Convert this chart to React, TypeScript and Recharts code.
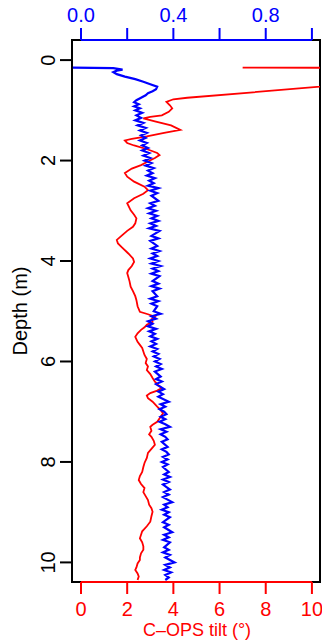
import React from "react";
import {
  ScatterChart,
  Scatter,
  XAxis,
  YAxis,
  ReferenceArea,
  ReferenceLine,
  Label,
} from "recharts";

// profile: depth (m) vs normalised signal (top axis) and C-OPS tilt (bottom axis)
const blueDepth = [
  0.15, 0.16, 0.19, 0.21, 0.24, 0.28, 0.33, 0.38, 0.43, 0.48, 0.53, 0.58, 0.62, 0.66, 0.7, 0.75, 0.8, 0.84, 0.88,
  0.92, 0.96, 1.0, 1.05, 1.1, 1.15, 1.2, 1.25, 1.3, 1.35, 1.4, 1.45, 1.5, 1.55, 1.6, 1.65, 1.7, 1.75, 1.8, 1.85,
  1.9, 1.95, 2.0, 2.05, 2.1, 2.15, 2.2, 2.25, 2.3, 2.35, 2.4, 2.45, 2.5, 2.55, 2.6, 2.65, 2.7, 2.8, 2.85, 2.9,
  2.95, 3.0, 3.05, 3.1, 3.15, 3.2, 3.25, 3.3, 3.35, 3.4, 3.5, 3.55, 3.6, 3.7, 3.75, 3.8, 3.85, 3.9, 3.95, 4.0,
  4.05, 4.1, 4.15, 4.2, 4.25, 4.3, 4.4, 4.45, 4.5, 4.55, 4.6, 4.7, 4.75, 4.8, 4.85, 4.9, 5.0, 5.05, 5.1, 5.15,
  5.2, 5.25, 5.3, 5.35, 5.4, 5.45, 5.5, 5.55, 5.6, 5.65, 5.7, 5.75, 5.8, 5.85, 5.9, 5.95, 6.0, 6.05, 6.1, 6.15,
  6.2, 6.3, 6.35, 6.4, 6.45, 6.55, 6.6, 6.65, 6.7, 6.8, 6.85, 6.9, 6.95, 7.0, 7.05, 7.1, 7.15, 7.2, 7.25, 7.3,
  7.35, 7.4, 7.45, 7.5, 7.55, 7.6, 7.7, 7.75, 7.8, 7.85, 7.9, 7.95, 8.0, 8.05, 8.1, 8.2, 8.25, 8.3, 8.35, 8.4,
  8.45, 8.55, 8.6, 8.65, 8.7, 8.8, 8.85, 8.9, 8.95, 9.0, 9.05, 9.1, 9.2, 9.25, 9.3, 9.4, 9.45, 9.5, 9.55, 9.6,
  9.7, 9.75, 9.8, 9.85, 9.9, 10.0, 10.05, 10.1, 10.15, 10.2, 10.25, 10.3, 10.35,
];
const blueSignal = [
  -0.035, 0.14, 0.18, 0.155, 0.14, 0.155, 0.19, 0.235, 0.27, 0.3, 0.33, 0.325, 0.31, 0.29, 0.28, 0.26, 0.24, 0.23,
  0.25, 0.23, 0.255, 0.235, 0.265, 0.24, 0.26, 0.235, 0.27, 0.245, 0.28, 0.255, 0.285, 0.26, 0.28, 0.255, 0.285,
  0.265, 0.29, 0.265, 0.295, 0.27, 0.3, 0.275, 0.305, 0.28, 0.315, 0.29, 0.31, 0.285, 0.32, 0.295, 0.315, 0.29,
  0.335, 0.3, 0.33, 0.305, 0.335, 0.3, 0.32, 0.29, 0.325, 0.295, 0.33, 0.305, 0.335, 0.3, 0.325, 0.295, 0.34,
  0.305, 0.335, 0.3, 0.33, 0.305, 0.34, 0.31, 0.33, 0.3, 0.335, 0.305, 0.345, 0.31, 0.335, 0.305, 0.34, 0.31,
  0.335, 0.305, 0.34, 0.31, 0.33, 0.3, 0.335, 0.305, 0.33, 0.315, 0.345, 0.305, 0.325, 0.29, 0.31, 0.29, 0.325,
  0.295, 0.32, 0.3, 0.33, 0.305, 0.325, 0.3, 0.33, 0.31, 0.335, 0.315, 0.34, 0.32, 0.345, 0.325, 0.35, 0.32,
  0.345, 0.325, 0.35, 0.325, 0.36, 0.335, 0.355, 0.335, 0.38, 0.345, 0.365, 0.34, 0.36, 0.37, 0.345, 0.365, 0.34,
  0.365, 0.385, 0.345, 0.37, 0.345, 0.365, 0.375, 0.35, 0.375, 0.35, 0.37, 0.38, 0.355, 0.375, 0.35, 0.375, 0.355,
  0.38, 0.36, 0.385, 0.355, 0.38, 0.355, 0.385, 0.36, 0.38, 0.355, 0.395, 0.36, 0.375, 0.35, 0.38, 0.36,
  0.385, 0.355, 0.38, 0.36, 0.395, 0.36, 0.38, 0.355, 0.385, 0.36, 0.38, 0.355, 0.385, 0.365, 0.405, 0.365, 0.385,
  0.36, 0.39, 0.365, 0.38, 0.365,
];

const redDepth = [
  0.15, 0.16, 0.75, 0.78, 0.83, 0.9, 0.96, 1.03, 1.1, 1.13, 1.16, 1.22, 1.3, 1.39, 1.45, 1.52, 1.57, 1.6, 1.65,
  1.7, 1.78, 1.85, 1.89, 1.95, 2.02, 2.09, 2.16, 2.25, 2.32, 2.42, 2.52, 2.59, 2.66, 2.75, 2.85, 2.99, 3.08,
  3.15, 3.25, 3.32, 3.4, 3.48, 3.58, 3.65, 3.72, 3.85, 3.95, 4.02, 4.1, 4.18, 4.24, 4.32, 4.4, 4.51, 4.6, 4.7,
  4.78, 4.9, 5.01, 5.06, 5.11, 5.16, 5.21, 5.27, 5.32, 5.37, 5.44, 5.51, 5.56, 5.61, 5.67, 5.73, 5.8, 5.87,
  5.95, 6.03, 6.1, 6.17, 6.25, 6.33, 6.4, 6.47, 6.53, 6.58, 6.63, 6.68, 6.73, 6.8, 6.9, 6.97, 7.03, 7.1, 7.2,
  7.26, 7.3, 7.38, 7.45, 7.5, 7.58, 7.66, 7.74, 7.82, 7.92, 8.02, 8.1, 8.2, 8.28, 8.36, 8.44, 8.52, 8.6, 8.68,
  8.76, 8.85, 8.92, 8.99, 9.08, 9.19, 9.28, 9.38, 9.45, 9.52, 9.6, 9.68, 9.75, 9.82, 9.9, 9.95, 10.02, 10.1,
  10.15, 10.22, 10.28, 10.35,
];
const redTilt = [
  7.0, 20, 4.6, 4.0, 3.7, 3.85, 3.95, 3.8, 3.5, 3.0, 2.7, 3.2, 3.9, 4.3, 3.6, 2.85, 2.2, 1.9, 2.0, 2.3, 2.9, 3.3,
  3.4, 3.2, 2.9, 2.6, 2.2, 1.9, 2.0, 2.3, 2.75, 2.9, 2.7, 2.3, 2.0, 2.15, 2.3, 2.4, 2.35, 2.25, 2.0, 1.8, 1.55,
  1.6, 1.75, 2.05, 2.25, 2.3, 2.2, 2.05, 2.0, 2.05, 2.1, 2.15, 2.25, 2.35, 2.4, 2.45, 2.55, 2.9, 3.2, 3.05, 3.1,
  2.85, 2.75, 2.6, 2.45, 2.35, 2.4, 2.45, 2.55, 2.65, 2.7, 2.75, 2.85, 2.8, 2.9, 2.85, 3.0, 3.1, 3.2, 3.35, 3.5,
  3.3, 3.0, 2.85, 2.9, 3.1, 3.3, 3.45, 3.55, 3.45, 3.3, 3.1, 3.0, 3.05, 2.95, 3.05, 3.15, 3.2, 3.05, 2.9, 2.85,
  2.75, 2.7, 2.65, 2.55, 2.5, 2.6, 2.75, 2.7, 2.8, 2.9, 2.95, 3.05, 3.1, 3.05, 3.0, 2.85, 2.65, 2.6, 2.55, 2.65,
  2.7, 2.7, 2.6, 2.55, 2.55, 2.45, 2.4, 2.35, 2.45, 2.5, 2.45,
];

const depthTicks = [0, 2, 4, 6, 8, 10];
const blueTicks = [0, 0.2, 0.4, 0.6, 0.8, 1.0];
const blueLabelled = [0, 0.4, 0.8];
const redTicks = [0, 2, 4, 6, 8, 10];

const blueData = blueDepth.map((d, i) => ({ depth: d, v: blueSignal[i] }));
const redData = redDepth.map((d, i) => ({ depth: d, v: redTilt[i] }));

const BLUE = "#0000FF";
const RED = "#FF0000";
const FONT = "'Liberation Sans', Arial, Helvetica, sans-serif";

const BlueTick = (props: any) => {
  const val = props.payload.value;
  if (!blueLabelled.some((b) => Math.abs(b - val) < 1e-6)) return <g />;
  return (
    <text x={props.x} y={22} textAnchor="middle" fill={BLUE} fontSize={20} fontFamily={FONT}>
      {val.toFixed(1)}
    </text>
  );
};

const RedTick = (props: any) => (
  <text x={props.x} y={616} textAnchor="middle" fill={RED} fontSize={20} fontFamily={FONT}>
    {props.payload.value}
  </text>
);

const DepthTick = (props: any) => (
  <text
    x={55}
    y={props.y}
    transform={`rotate(-90, 55, ${props.y})`}
    textAnchor="middle"
    fill="#000"
    fontSize={20}
    fontFamily={FONT}
  >
    {props.payload.value}
  </text>
);

const noDot = () => <g />;

export default function App() {
  return (
    <div style={{ position: "absolute", left: 0, top: 0, background: "#fff" }}>
      <ScatterChart width={322} height={641} margin={{ top: 0, right: 2, bottom: 0, left: 0 }}>
        <XAxis
          xAxisId="blue"
          type="number"
          dataKey="v"
          orientation="top"
          domain={[-0.039, 1.035]}
          allowDataOverflow
          ticks={blueTicks}
          height={40}
          tickSize={12}
          axisLine={false}
          tickLine={{ stroke: BLUE, strokeWidth: 2 }}
          tick={<BlueTick />}
        />
        <XAxis
          xAxisId="red"
          type="number"
          dataKey="v"
          orientation="bottom"
          domain={[-0.39, 10.35]}
          allowDataOverflow
          ticks={redTicks}
          height={59}
          tickSize={12}
          axisLine={false}
          tickLine={{ stroke: RED, strokeWidth: 2 }}
          tick={<RedTick />}
        >
          <Label
            content={() => (
              <text x={197} y={636} textAnchor="middle" fill={RED} fontSize={18} fontFamily={FONT}>
                C–OPS tilt (°)
              </text>
            )}
          />
        </XAxis>
        <YAxis
          yAxisId="d"
          type="number"
          dataKey="depth"
          reversed
          domain={[-0.4, 10.39]}
          allowDataOverflow
          ticks={depthTicks}
          width={72}
          tickSize={12}
          axisLine={false}
          tickLine={{ stroke: "#000", strokeWidth: 2 }}
          tick={<DepthTick />}
        >
          <Label
            content={() => (
              <text
                x={27}
                y={311}
                transform="rotate(-90, 27, 311)"
                textAnchor="middle"
                fill="#000"
                fontSize={20}
                fontFamily={FONT}
              >
                Depth (m)
              </text>
            )}
          />
        </YAxis>
        <ReferenceArea
          xAxisId="red"
          yAxisId="d"
          x1={-0.39}
          x2={10.35}
          y1={-0.4}
          y2={10.39}
          fill="none"
          fillOpacity={0}
          stroke="#000"
          strokeWidth={2}
        />
        <Scatter
          data={redData}
          xAxisId="red"
          yAxisId="d"
          shape={noDot}
          line={{ stroke: RED, strokeWidth: 1.8 }}
          isAnimationActive={false}
        />
        <Scatter
          data={blueData}
          xAxisId="blue"
          yAxisId="d"
          shape={noDot}
          line={{ stroke: BLUE, strokeWidth: 2.2 }}
          isAnimationActive={false}
        />
        <ReferenceLine
          xAxisId="blue"
          yAxisId="d"
          segment={[
            { x: 0, y: -0.4 },
            { x: 1, y: -0.4 },
          ]}
          stroke={BLUE}
          strokeWidth={2}
        />
        <ReferenceLine
          xAxisId="red"
          yAxisId="d"
          segment={[
            { x: 0, y: 10.39 },
            { x: 10, y: 10.39 },
          ]}
          stroke={RED}
          strokeWidth={2}
        />
      </ScatterChart>
    </div>
  );
}
